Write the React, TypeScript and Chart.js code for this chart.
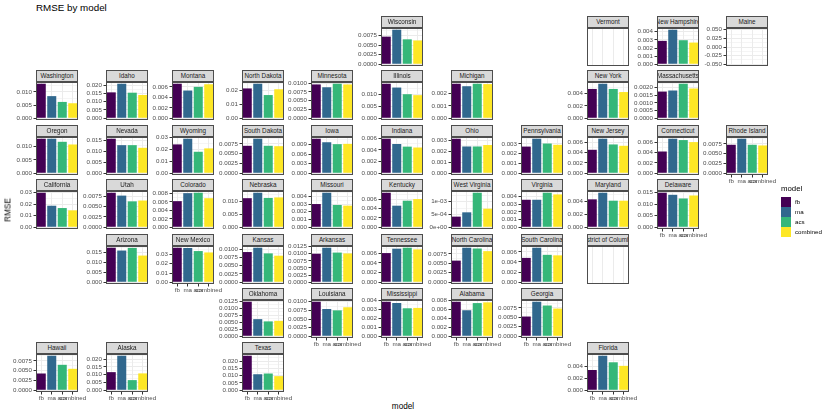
import React, { useEffect, useRef } from "react";
import { Chart, registerables } from "chart.js";
Chart.register(...registerables);

// ---------------- data ----------------
const MODELS = ["fb", "ma", "acs", "combined"];
const MODEL_COLORS = ["#440154", "#31688E", "#35B779", "#FDE725"];

const STATES = [
  "Washington", "Idaho", "Montana", "North Dakota", "Minnesota", "Wisconsin", "Illinois", "Michigan",
  "Vermont", "New Hampshire", "Maine", "New York", "Massachusetts",
  "Oregon", "Nevada", "Wyoming", "South Dakota", "Iowa", "Indiana", "Ohio", "Pennsylvania",
  "New Jersey", "Connecticut", "Rhode Island",
  "California", "Utah", "Colorado", "Nebraska", "Missouri", "Kentucky", "West Virginia", "Virginia",
  "Maryland", "Delaware",
  "Arizona", "New Mexico", "Kansas", "Arkansas", "Tennessee", "North Carolina", "South Carolina",
  "District of Columbia",
  "Oklahoma", "Louisiana", "Mississippi", "Alabama", "Georgia",
  "Hawaii", "Alaska", "Texas", "Florida",
];

const FB = [
  0.0131, 0.0156, 0.0066, 0.0216, 0.0096, 0.0072, 0.0145, 0.00278,
  null, 0.00288, 0, 0.00472, 0.00173,
  0.0129, 0.0156, 0.0239, 0.0070, 0.0108, 0.0059, 0.00312, 0.00272,
  0.00452, 0.00419, 0.00725,
  0.0300, 0.0084, 0.0062, 0.0112, 0.0030, 0.00735, 0.000416, 0.0036,
  0.00431, 0.0150,
  0.0172, 0.0373, 0.0091, 0.0100, 0.0060, 0.0057, 0.0048,
  null,
  0.0123, 0.0100, 0.00385, 0.0077, 0.0052,
  0.00427, 0.0116, 0.0237, 0.0034,
];
const MA = [
  0.0084, 0.0208, 0.0053, 0.0250, 0.0088, 0.0090, 0.0129, 0.00258,
  null, 0.00425, 0, 0.00556, 0.0018,
  0.0129, 0.0127, 0.0286, 0.0088, 0.0097, 0.0050, 0.00242, 0.00352,
  0.00665, 0.00665, 0.00879,
  0.0187, 0.0077, 0.0081, 0.0133, 0.00446, 0.00459, 0.000584, 0.0036,
  0.00533, 0.0141,
  0.0158, 0.0370, 0.0104, 0.0121, 0.0069, 0.0091, 0.0068,
  null,
  0.0061, 0.0079, 0.00371, 0.0058, 0.0091,
  0.00879, 0.0221, 0.0110, 0.0058,
];
const ACS = [
  0.0062, 0.0154, 0.0060, 0.0168, 0.0098, 0.0065, 0.0101, 0.00278,
  null, 0.00296, 0, 0.00472, 0.00224,
  0.01175, 0.0127, 0.0178, 0.0070, 0.0091, 0.00455, 0.00242, 0.00303,
  0.00555, 0.00639, 0.00725,
  0.0167, 0.0063, 0.0082, 0.0113, 0.00288, 0.00565, 0.00135, 0.00452,
  0.0041, 0.0125,
  0.0171, 0.0337, 0.0087, 0.0104, 0.0071, 0.0089, 0.0054,
  null,
  0.0053, 0.0075, 0.00312, 0.0074, 0.0081,
  0.00648, 0.0065, 0.0115, 0.0047,
];
const COMBINED = [
  0.0057, 0.0140, 0.0065, 0.0210, 0.0096, 0.0062, 0.0097, 0.00275,
  null, 0.00267, 0, 0.00422, 0.00193,
  0.01075, 0.0115, 0.0206, 0.0069, 0.0092, 0.0044, 0.00255, 0.0029,
  0.00529, 0.0060, 0.00708,
  0.0147, 0.0065, 0.0069, 0.0115, 0.00279, 0.0060, 0.000727, 0.0043,
  0.0041, 0.0138,
  0.0133, 0.0322, 0.0080, 0.0101, 0.00676, 0.0082, 0.0053,
  null,
  0.0055, 0.0084, 0.00316, 0.00756, 0.0073,
  0.00546, 0.0108, 0.0097, 0.0041,
];

// y-axis breaks per panel (step between labelled ticks, and the highest labelled tick)
const TICK_STEP = [
  0.005, 0.005, 0.002, 0.01, 0.0025, 0.0025, 0.005, 0.001,
  0, 0.001, 0.025, 0.002, 0.0005,
  0.005, 0.005, 0.01, 0.0025, 0.003, 0.002, 0.001, 0.001,
  0.002, 0.002, 0.0025,
  0.01, 0.0025, 0.002, 0.005, 0.001, 0.002, 0.0005, 0.001,
  0.002, 0.005,
  0.005, 0.01, 0.0025, 0.0025, 0.002, 0.0025, 0.002,
  0,
  0.0025, 0.0025, 0.001, 0.002, 0.0025,
  0.0025, 0.005, 0.005, 0.002,
];
const TICK_TOP = [
  0.010, 0.020, 0.006, 0.02, 0.0100, 0.0075, 0.010, 0.002,
  0, 0.004, 0.050, 0.004, 0.0020,
  0.010, 0.015, 0.03, 0.0075, 0.009, 0.006, 0.003, 0.003,
  0.006, 0.006, 0.0075,
  0.03, 0.0075, 0.008, 0.010, 0.004, 0.006, 0.001, 0.004,
  0.004, 0.015,
  0.015, 0.03, 0.0100, 0.0125, 0.006, 0.0075, 0.006,
  0,
  0.0125, 0.0100, 0.004, 0.008, 0.0075,
  0.0075, 0.020, 0.020, 0.004,
];
const SCI_LABEL_STATES = ["West Virginia"];

// geofacet grid: [row, col]
const GRID: Record<string, [number, number]> = {
  "Wisconsin": [0, 5], "Vermont": [0, 8], "New Hampshire": [0, 9], "Maine": [0, 10],
  "Washington": [1, 0], "Idaho": [1, 1], "Montana": [1, 2], "North Dakota": [1, 3], "Minnesota": [1, 4],
  "Illinois": [1, 5], "Michigan": [1, 6], "New York": [1, 8], "Massachusetts": [1, 9],
  "Oregon": [2, 0], "Nevada": [2, 1], "Wyoming": [2, 2], "South Dakota": [2, 3], "Iowa": [2, 4],
  "Indiana": [2, 5], "Ohio": [2, 6], "Pennsylvania": [2, 7], "New Jersey": [2, 8], "Connecticut": [2, 9],
  "Rhode Island": [2, 10],
  "California": [3, 0], "Utah": [3, 1], "Colorado": [3, 2], "Nebraska": [3, 3], "Missouri": [3, 4],
  "Kentucky": [3, 5], "West Virginia": [3, 6], "Virginia": [3, 7], "Maryland": [3, 8], "Delaware": [3, 9],
  "Arizona": [4, 1], "New Mexico": [4, 2], "Kansas": [4, 3], "Arkansas": [4, 4], "Tennessee": [4, 5],
  "North Carolina": [4, 6], "South Carolina": [4, 7], "District of Columbia": [4, 8],
  "Oklahoma": [5, 3], "Louisiana": [5, 4], "Mississippi": [5, 5], "Alabama": [5, 6], "Georgia": [5, 7],
  "Hawaii": [6, 0], "Alaska": [6, 1], "Texas": [6, 3], "Florida": [6, 8],
};

// ---------------- layout ----------------
const COL_X = [36, 106, 172, 242, 311, 381, 451, 521, 587, 657, 726];
const ROW_Y = [16, 70, 125, 179, 234, 288, 342];
const PW = 42;
const STRIP_H = 12;
const PH = 38;
const AXW = 26;
const RPAD = 16;
const TPAD = 4;
const BPAD = 4;
const XH = 12;
const FONT = "'Liberation Sans', Arial, Helvetica, sans-serif";

const BOTTOM_ROW: Record<number, number> = {};
Object.values(GRID).forEach(([r, c]) => {
  if (BOTTOM_ROW[c] === undefined || r > BOTTOM_ROW[c]) BOTTOM_ROW[c] = r;
});

function decimalsOf(step: number) {
  const s = String(step);
  return s.includes(".") ? s.split(".")[1].length : 0;
}
function sciLabel(v: number) {
  if (Math.abs(v) < 1e-15) return "0e+00";
  const e = Math.floor(Math.log10(Math.abs(v)) + 1e-9);
  const m = Math.round(v / Math.pow(10, e));
  const sign = e < 0 ? "-" : "+";
  const ae = Math.abs(e);
  return `${m}e${sign}${ae < 10 ? "0" + ae : ae}`;
}

const panelBorder = {
  id: "panelBorder",
  afterDraw(chart: any) {
    const { ctx, chartArea: a } = chart;
    ctx.save();
    ctx.strokeStyle = "#4d4d4d";
    ctx.lineWidth = 1;
    ctx.strokeRect(a.left + 0.5, a.top + 0.5, a.right - a.left - 1, a.bottom - a.top - 1);
    ctx.restore();
  },
};

function Panel({ idx }: { idx: number }) {
  const ref = useRef<HTMLCanvasElement>(null);
  const name = STATES[idx];
  const [row, col] = GRID[name];
  const hasX = BOTTOM_ROW[col] === row;
  const x = COL_X[col];
  const y = ROW_Y[row];

  useEffect(() => {
    if (!ref.current) return;
    const vals = [FB[idx], MA[idx], ACS[idx], COMBINED[idx]];
    const empty = vals.every((v) => v === null);
    const maxV = empty ? 0 : Math.max(...(vals as number[]));
    const step = TICK_STEP[idx];
    const top = TICK_TOP[idx];
    let lo = 0, hi = 1, bottom = 0;
    if (!empty && maxV === 0) {
      lo = -top * 1.1; hi = top * 1.1; bottom = -top;
    } else if (!empty) {
      lo = -0.05 * maxV; hi = 1.05 * maxV; bottom = 0;
    }
    const list: { value: number; minor: boolean }[] = [];
    if (!empty) {
      const half = step / 2;
      for (let k = Math.ceil(lo / half - 1e-9); k * half <= hi + 1e-12; k++) {
        const v = Math.abs(k * half) < 1e-15 ? 0 : k * half;
        const major = k % 2 === 0 && v >= bottom - 1e-12 && v <= top + 1e-12;
        list.push({ value: v, minor: !major });
      }
    }
    const dec = decimalsOf(step);
    const sci = SCI_LABEL_STATES.includes(name);

    const chart = new Chart(ref.current, {
      type: "bar",
      data: {
        labels: MODELS,
        datasets: [
          {
            data: empty ? [] : (vals as number[]),
            backgroundColor: MODEL_COLORS,
            borderWidth: 0,
            barPercentage: 0.86,
            categoryPercentage: 1,
          },
        ],
      },
      options: {
        animation: false,
        responsive: true,
        maintainAspectRatio: false,
        events: [],
        layout: { padding: { left: 0, right: RPAD, top: TPAD, bottom: hasX ? 0 : BPAD } },
        plugins: { legend: { display: false }, tooltip: { enabled: false }, title: { display: false } },
        scales: {
          x: {
            type: "category",
            offset: true,
            border: { display: false },
            grid: {
              display: true,
              offset: false,
              color: "#ebebeb",
              lineWidth: 1,
              drawTicks: hasX,
              tickLength: 2.5,
              tickColor: "#333333",
              tickWidth: 1,
            },
            ticks: {
              display: hasX,
              autoSkip: false,
              maxRotation: 0,
              minRotation: 0,
              padding: 0.5,
              color: "#4d4d4d",
              font: { family: FONT, size: 6.2 },
            },
            afterFit: (s: any) => {
              s.height = hasX ? XH : 0;
              s.paddingLeft = 0;
              s.paddingRight = 0;
            },
          },
          y: {
            type: "linear",
            min: lo,
            max: hi,
            bounds: "data",
            border: { display: false },
            grid: {
              display: !empty,
              color: "#ebebeb",
              lineWidth: (ctx: any) => (ctx.tick && ctx.tick.minor ? 0.5 : 1),
              drawTicks: true,
              tickLength: 2.5,
              tickWidth: 1,
              tickColor: (ctx: any) => (ctx.tick && ctx.tick.minor ? "rgba(0,0,0,0)" : "#333333"),
            },
            ticks: {
              display: !empty,
              autoSkip: false,
              padding: 1.5,
              color: "#4d4d4d",
              font: { family: FONT, size: 6.2 },
              callback: (value: any, index: number) => {
                const t = list[index];
                if (!t || t.minor) return "";
                const v = t.value;
                return sci ? sciLabel(v) : (Math.abs(v) < 1e-15 ? 0 : v).toFixed(dec);
              },
            },
            afterBuildTicks: (s: any) => {
              if (!empty) s.ticks = list.map((t) => ({ value: t.value, minor: t.minor }));
            },
            afterFit: (s: any) => {
              s.width = AXW;
              s.paddingTop = 0;
              s.paddingBottom = 0;
            },
          },
        },
      } as any,
      plugins: [panelBorder],
    });
    return () => chart.destroy();
  }, [idx]);

  return (
    <>
      <div
        style={{
          position: "absolute",
          left: x,
          top: y,
          width: PW,
          height: STRIP_H,
          boxSizing: "border-box",
          border: "1px solid #4d4d4d",
          background: "#d9d9d9",
          display: "flex",
          alignItems: "center",
          justifyContent: "center",
          overflow: "hidden",
          whiteSpace: "nowrap",
          fontSize: 6.3,
          lineHeight: "8px",
          color: "#1a1a1a",
        }}
      >
        <span style={{ flexShrink: 0 }}>{name}</span>
      </div>
      <div
        style={{
          position: "absolute",
          left: x - AXW,
          top: y + STRIP_H - TPAD,
          width: AXW + PW + RPAD,
          height: TPAD + PH + (hasX ? XH : BPAD),
        }}
      >
        <canvas ref={ref} />
      </div>
    </>
  );
}

export default function App() {
  return (
    <div
      style={{
        position: "absolute",
        left: 0,
        top: 0,
        width: 830,
        height: 415,
        background: "#ffffff",
        overflow: "hidden",
        fontFamily: FONT,
      }}
    >
      <div style={{ position: "absolute", left: 36, top: 2, fontSize: 9.8, lineHeight: "11px", color: "#000", whiteSpace: "nowrap" }}>
        RMSE by model
      </div>
      {STATES.map((s, i) => (
        <Panel key={s} idx={i} />
      ))}
      <div
        style={{
          position: "absolute",
          left: 8,
          top: 210,
          transform: "translate(-50%, -50%) rotate(-90deg)",
          fontSize: 8.2,
          color: "#000",
          whiteSpace: "nowrap",
        }}
      >
        RMSE
      </div>
      <div
        style={{
          position: "absolute",
          left: 403,
          top: 406,
          transform: "translate(-50%, -50%)",
          fontSize: 8.2,
          color: "#000",
          whiteSpace: "nowrap",
        }}
      >
        model
      </div>
      <div style={{ position: "absolute", left: 781, top: 184, fontSize: 7.8, lineHeight: "9px", color: "#000" }}>model</div>
      {MODELS.map((m, i) => (
        <React.Fragment key={m}>
          <div
            style={{
              position: "absolute",
              left: 781,
              top: 197 + i * 10,
              width: 9.7,
              height: 9.7,
              background: MODEL_COLORS[i],
            }}
          />
          <div
            style={{
              position: "absolute",
              left: 795,
              top: 197 + i * 10,
              height: 9.7,
              lineHeight: "9.7px",
              fontSize: 6.2,
              color: "#000",
              whiteSpace: "nowrap",
            }}
          >
            {m}
          </div>
        </React.Fragment>
      ))}
    </div>
  );
}
